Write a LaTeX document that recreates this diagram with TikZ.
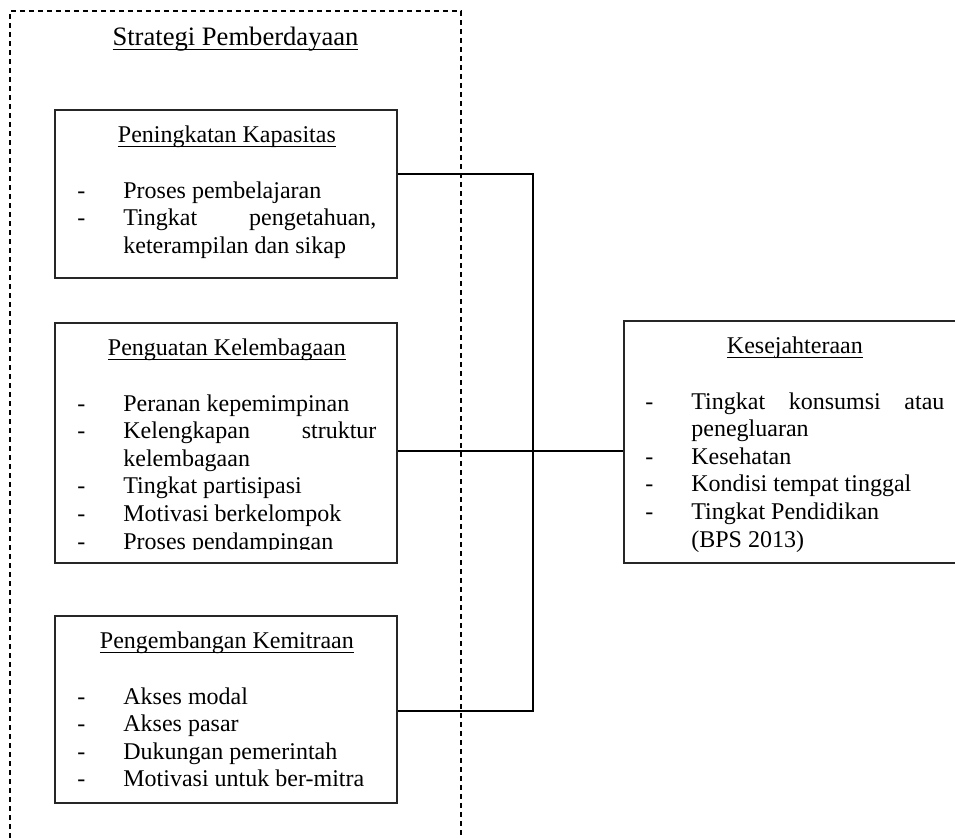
\documentclass[tikz,border=0pt]{standalone}
\usepackage{fontspec}
\setmainfont{Liberation Serif}
\newsavebox{\ulbox}
\newcommand{\bawah}[1]{\sbox{\ulbox}{#1}\usebox{\ulbox}\llap{\rule[-2.1pt]{\wd\ulbox}{0.7pt}}}

\begin{document}
\begin{tikzpicture}[x=0.5pt,y=-0.5pt,
    kotak/.style={draw=black!85,line width=0.75pt,minimum width=171pt,inner sep=0pt},
    isi/.style={anchor=north west,inner sep=0pt,font=\fontsize{12}{13.8}\selectfont},
    garis/.style={line width=1pt},
    bingkai/.style={line width=0.6pt,dash pattern=on 2.7pt off 1.8pt}]
    \useasboundingbox (0,0) rectangle (955,838);
    \draw[bingkai] (10,838) -- (10,11) -- (461,11) -- (461,838);
    \node[anchor=base,inner sep=0pt,font=\fontsize{13.3}{16}\selectfont] (judul) at (235.5,46) {\bawah{Strategi Pemberdayaan}};

    \node[kotak,minimum height=84pt] (kapasitas) at (226,194) {};
    \node[kotak,minimum height=120pt] (lembaga) at (226,443) {};
    \node[kotak,minimum height=93.5pt] (mitra) at (226,709.5) {};
    \node[kotak,minimum width=171pt,minimum height=121pt] (sejahtera) at (795,442) {};

    \node[isi] (isikapasitas) at (77,123.2) {\begin{tabular}{@{}p{23pt}@{}p{126.5pt}@{}}
        \multicolumn{2}{c}{\bawah{Peningkatan Kapasitas}}\\
        \\
        -&Proses pembelajaran\\
        -&Tingkat\hfill pengetahuan,\newline keterampilan dan sikap
    \end{tabular}};
    \begin{scope}
        \clip (55,323) rectangle (397,550);
        \node[isi] (isilembaga) at (77,336.2) {\begin{tabular}{@{}p{23pt}@{}p{126.5pt}@{}}
            \multicolumn{2}{c}{\bawah{Penguatan Kelembagaan}}\\
            \\
            -&Peranan kepemimpinan\\
            -&Kelengkapan\hfill struktur\newline kelembagaan\\
            -&Tingkat partisipasi\\
            -&Motivasi berkelompok\\
            -&Proses pendampingan
        \end{tabular}};
    \end{scope}
    \node[isi] (isimitra) at (77,629.2) {\begin{tabular}{@{}p{23pt}@{}p{126.5pt}@{}}
        \multicolumn{2}{c}{\bawah{Pengembangan Kemitraan}}\\
        \\
        -&Akses modal\\
        -&Akses pasar\\
        -&Dukungan pemerintah\\
        -&Motivasi untuk ber-mitra
    \end{tabular}};
    \node[isi] (isisejahtera) at (645,334.2) {\begin{tabular}{@{}p{23pt}@{}p{126.5pt}@{}}
        \multicolumn{2}{c}{\bawah{Kesejahteraan}}\\
        \\
        -&Tingkat\hfill konsumsi\hfill atau\newline penegluaran\\
        -&Kesehatan\\
        -&Kondisi tempat tinggal\\
        -&Tingkat Pendidikan\newline (BPS 2013)
    \end{tabular}};

    \coordinate (bus) at (533,451);
    \draw[garis] ([yshift=10pt]kapasitas.east) -| (bus) |- ([yshift=-0.75pt]mitra.east);
    \draw[garis] ([yshift=-4pt]lembaga.east) -- (sejahtera.west |- bus);
\end{tikzpicture}
\end{document}
